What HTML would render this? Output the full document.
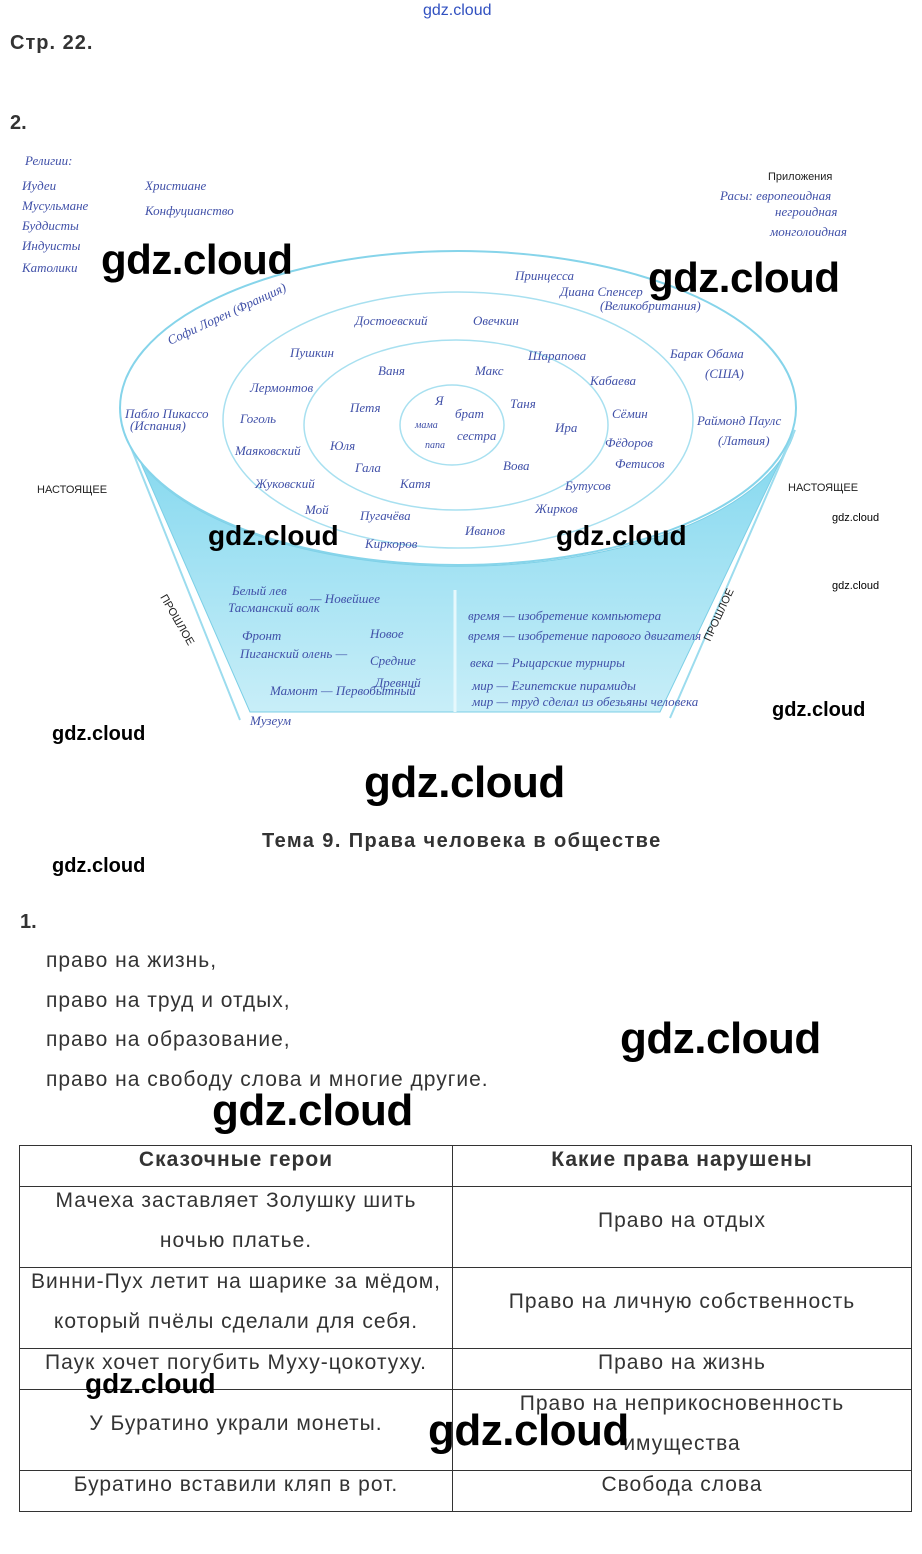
<!DOCTYPE html>
<html><head><meta charset="utf-8"><style>
body{margin:0;width:922px;height:1554px;background:#fff;position:relative;font-family:"Liberation Sans",sans-serif;color:#333;overflow:hidden}
.a{position:absolute;white-space:nowrap}
.wm{position:absolute;font-family:"Liberation Sans",sans-serif;color:#000;font-size:40px;font-weight:bold;white-space:nowrap;letter-spacing:-0.5px}
.ws{position:absolute;font-size:20px;color:#000;font-weight:bold}
.h{font-family:"Liberation Serif",serif;font-style:italic;fill:#4050a8;font-size:13px}
table{position:absolute;left:19px;top:1145px;border-collapse:collapse;width:893px}
td{border:1px solid #333;text-align:center;font-size:21px;letter-spacing:1px;color:#333;line-height:40px;padding:0;height:39px}
td div{position:relative;top:-6px}
</style></head><body>
<div class="a" style="left:423px;top:2px;font-size:16px;color:#3050c0">gdz.cloud</div>
<div class="a" style="left:10px;top:32px;font-size:20px;font-weight:bold;letter-spacing:1px">Стр. 22.</div>
<div class="a" style="left:10px;top:112px;font-size:20px;font-weight:bold">2.</div>
<svg class="a" style="left:0;top:140px" width="922" height="600" viewBox="0 140 922 600">
<defs><linearGradient id="g" x1="0" y1="0" x2="0" y2="1"><stop offset="0" stop-color="#7ed6ee"/><stop offset="1" stop-color="#c8eef8"/></linearGradient></defs>
<path d="M122 420 L250 712 L660 712 L795 430 A338 155 0 0 1 122 420 Z" fill="url(#g)" stroke="#7ccfe6"/>
<path d="M122 425 L240 720 M795 430 L670 718" stroke="#9cdcee" stroke-width="2" fill="none"/>
<line x1="455" y1="590" x2="455" y2="712" stroke="#e6f8fc" stroke-width="3"/>
<ellipse cx="458" cy="408" rx="338" ry="157" fill="#fff" stroke="#86d4ea" stroke-width="2"/>
<ellipse cx="458" cy="420" rx="235" ry="128" fill="none" stroke="#a8e0f0" stroke-width="1.5"/>
<ellipse cx="456" cy="425" rx="152" ry="85" fill="none" stroke="#a8e0f0" stroke-width="1.5"/>
<ellipse cx="452" cy="425" rx="52" ry="40" fill="none" stroke="#a8e0f0" stroke-width="1.5"/>
<g class="h">
<text x="25" y="165">Религии:</text><text x="22" y="190">Иудеи</text><text x="145" y="190">Христиане</text>
<text x="22" y="210">Мусульмане</text><text x="145" y="215">Конфуцианство</text><text x="22" y="230">Буддисты</text>
<text x="22" y="250">Индуисты</text><text x="22" y="272">Католики</text>
<text x="720" y="200">Расы: европеоидная</text><text x="775" y="216">негроидная</text><text x="770" y="236">монголоидная</text>
<text x="170" y="345" transform="rotate(-25 170 345)">Софи Лорен (Франция)</text>
<text x="515" y="280">Принцесса</text><text x="560" y="296">Диана Спенсер</text><text x="600" y="310">(Великобритания)</text>
<text x="355" y="325">Достоевский</text><text x="473" y="325">Овечкин</text>
<text x="290" y="357">Пушкин</text><text x="528" y="360">Шарапова</text><text x="670" y="358">Барак Обама</text><text x="705" y="378">(США)</text>
<text x="378" y="375">Ваня</text><text x="475" y="375">Макс</text><text x="590" y="385">Кабаева</text>
<text x="250" y="392">Лермонтов</text><text x="125" y="418">Пабло Пикассо</text><text x="130" y="430">(Испания)</text>
<text x="350" y="412">Петя</text><text x="435" y="405">Я</text><text x="455" y="418">брат</text><text x="510" y="408">Таня</text>
<text x="240" y="423">Гоголь</text><text x="415" y="428" font-size="10">мама</text><text x="457" y="440">сестра</text><text x="555" y="432">Ира</text><text x="612" y="418">Сёмин</text>
<text x="697" y="425">Раймонд Паулс</text><text x="718" y="445">(Латвия)</text>
<text x="425" y="448" font-size="10">папа</text><text x="235" y="455">Маяковский</text><text x="330" y="450">Юля</text><text x="605" y="447">Фёдоров</text>
<text x="355" y="472">Гала</text><text x="503" y="470">Вова</text><text x="615" y="468">Фетисов</text>
<text x="255" y="488">Жуковский</text><text x="400" y="488">Катя</text><text x="565" y="490">Бутусов</text>
<text x="305" y="514">Мой</text><text x="360" y="520">Пугачёва</text><text x="535" y="513">Жирков</text>
<text x="465" y="535">Иванов</text><text x="365" y="548">Киркоров</text>
<text x="232" y="595">Белый лев</text><text x="310" y="603">— Новейшее</text>
<text x="228" y="612">Тасманский волк</text><text x="370" y="638">Новое</text><text x="242" y="640">Фронт</text>
<text x="240" y="658">Пиганский олень —</text><text x="370" y="665">Средние</text><text x="375" y="687">Древний</text>
<text x="270" y="695">Мамонт — Первобытный</text><text x="250" y="725">Музеум</text>
<text x="468" y="620">время — изобретение компьютера</text><text x="468" y="640">время — изобретение парового двигателя</text>
<text x="470" y="667">века — Рыцарские турниры</text><text x="472" y="690">мир — Египетские пирамиды</text>
<text x="472" y="706">мир — труд сделал из обезьяны человека</text>
</g>
<g font-family="Liberation Sans" font-size="11" fill="#222">
<text x="768" y="180">Приложения</text><text x="37" y="493">НАСТОЯЩЕЕ</text><text x="788" y="491">НАСТОЯЩЕЕ</text>
<text x="160" y="597" transform="rotate(60 160 597)">ПРОШЛОЕ</text><text x="710" y="642" transform="rotate(-65 710 642)">ПРОШЛОЕ</text>
</g>
</svg>
<div class="wm" style="left:101px;top:236px;font-size:42px">gdz.cloud</div>
<div class="wm" style="left:648px;top:254px;font-size:42px">gdz.cloud</div>
<div class="a" style="left:208px;top:520px;font-size:28px;font-weight:bold;color:#000">gdz.cloud</div>
<div class="a" style="left:556px;top:520px;font-size:28px;font-weight:bold;color:#000">gdz.cloud</div>
<div class="a" style="left:832px;top:512px;font-size:11px;color:#000">gdz.cloud</div>
<div class="a" style="left:832px;top:580px;font-size:11px;color:#000">gdz.cloud</div>
<div class="ws" style="left:772px;top:699px">gdz.cloud</div>
<div class="ws" style="left:52px;top:723px">gdz.cloud</div>
<div class="wm" style="left:364px;top:758px;font-size:44px">gdz.cloud</div>
<div class="a" style="left:262px;top:830px;font-size:20px;font-weight:bold;letter-spacing:1.4px">Тема 9. Права человека в обществе</div>
<div class="ws" style="left:52px;top:855px">gdz.cloud</div>
<div class="a" style="left:20px;top:911px;font-size:20px;font-weight:bold">1.</div>
<div class="a" style="left:46px;top:941px;font-size:21px;letter-spacing:1px;line-height:39.5px">право на жизнь,<br>право на труд и отдых,<br>право на образование,<br>право на свободу слова и многие другие.</div>
<div class="wm" style="left:620px;top:1014px;font-size:44px">gdz.cloud</div>
<div class="wm" style="left:212px;top:1086px;font-size:44px">gdz.cloud</div>
<table>
<tr><td style="width:432px;font-weight:bold"><div>Сказочные герои</div></td><td style="font-weight:bold"><div>Какие права нарушены</div></td></tr>
<tr><td><div>Мачеха заставляет Золушку шить<br>ночью платье.</div></td><td><div>Право на отдых</div></td></tr>
<tr><td><div>Винни-Пух летит на шарике за мёдом,<br>который пчёлы сделали для себя.</div></td><td><div>Право на личную собственность</div></td></tr>
<tr><td><div>Паук хочет погубить Муху-цокотуху.</div></td><td><div>Право на жизнь</div></td></tr>
<tr><td><div>У Буратино украли монеты.</div></td><td><div>Право на неприкосновенность<br>имущества</div></td></tr>
<tr><td><div>Буратино вставили кляп в рот.</div></td><td><div>Свобода слова</div></td></tr>
</table>
<div class="a" style="left:85px;top:1368px;font-size:28px;font-weight:bold;color:#000">gdz.cloud</div>
<div class="wm" style="left:428px;top:1406px;font-size:44px">gdz.cloud</div>
</body></html>
